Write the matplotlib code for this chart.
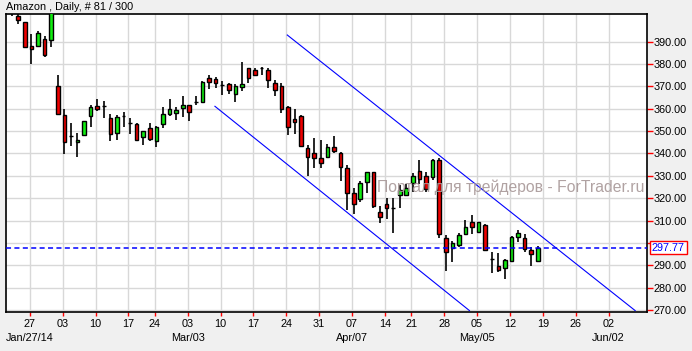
import numpy as np
import pandas as pd
import matplotlib
matplotlib.use("Agg")
import matplotlib.pyplot as plt
import matplotlib.transforms as mtransforms

plt.rcParams['font.family'] = ['Liberation Sans', 'DejaVu Sans']

title = "Amazon , Daily, # 81 / 300"
watermark = "Портал для трейдеров - ForTrader.ru"

# trading days shown (NYSE holidays removed)
holidays = ["2014-02-17", "2014-04-18"]
dates = pd.bdate_range("2014-01-22", "2014-05-16")
dates = dates[~dates.isin(pd.to_datetime(holidays))]
future = pd.bdate_range("2014-05-19", "2014-06-13")

opens = [404.5, 401.4, 398.7, 388.1, 388.2, 391.2, 390.6, 370.1,
         357.2, 348.0, 345.0, 348.4, 356.9, 361.2, 361.1, 355.7, 349.0, 356.6,
         353.5, 353.2, 347.2, 351.3, 345.5, 353.2, 357.7, 358.0, 360.2,
         361.7, 363.2, 363.2, 373.6, 373.2, 370.6, 370.9, 366.5, 369.9, 378.1,
         377.3, 378.4, 377.3, 371.4, 370.2, 360.7, 355.4, 356.8, 342.3, 340.1,
         337.9, 338.6, 342.8, 340.1, 333.4, 322.2, 319.7, 327.4, 331.6, 313.7,
         317.3, 315.8, 321.4, 321.4, 326.7, 332.2, 329.9, 329.4, 337.1,
         302.1, 297.6, 299.1, 303.9, 309.2, 304.8, 308.0, 292.8, 289.6, 288.6,
         291.9, 302.5, 302.1, 296.8, 292.1]
highs = [407.0, 402.5, 399.0, 393.4, 394.9, 392.7, 406.0, 375.1,
         359.8, 353.5, 349.3, 354.5, 361.7, 364.4, 363.3, 357.7, 357.2, 358.7,
         355.7, 353.5, 350.2, 353.5, 352.3, 360.7, 364.4, 360.7, 365.7,
         361.9, 365.7, 372.4, 375.1, 374.2, 372.4, 371.5, 370.9, 381.1, 378.4,
         378.1, 378.6, 378.4, 372.9, 371.4, 361.2, 359.8, 357.2, 343.8, 347.1,
         346.0, 344.1, 347.8, 340.8, 334.9, 324.7, 327.7, 331.9, 331.9, 316.3,
         320.2, 320.0, 325.9, 326.2, 331.1, 337.1, 331.9, 337.5, 338.0,
         303.6, 301.0, 304.3, 310.3, 312.5, 309.5, 308.3, 295.8, 295.4, 292.6,
         303.1, 305.8, 303.9, 298.3, 298.8]
lows = [401.5, 397.9, 387.3, 380.0, 387.5, 383.3, 387.5, 357.5,
        339.6, 343.5, 338.3, 348.1, 352.0, 359.1, 355.7, 345.7, 346.0, 351.7,
        348.7, 345.5, 343.9, 345.7, 342.8, 351.4, 356.9, 355.1, 356.5,
        354.4, 361.7, 363.0, 368.7, 369.2, 366.2, 366.7, 363.2, 368.0, 371.4,
        374.8, 375.1, 369.2, 365.8, 358.0, 348.3, 348.6, 343.1, 330.1, 333.6,
        333.6, 337.9, 340.1, 327.8, 314.7, 312.8, 318.2, 322.2, 315.8, 309.1,
        310.7, 304.6, 315.5, 321.1, 322.9, 326.4, 322.6, 328.2, 302.1,
        287.4, 291.3, 298.3, 303.6, 303.9, 304.3, 296.4, 286.4, 287.1, 283.7,
        291.3, 300.3, 296.1, 289.8, 291.3]
closes = [405.0, 399.6, 387.8, 386.6, 393.8, 384.2, 404.0, 357.7,
          345.0, 348.0, 345.9, 354.4, 360.8, 360.0, 361.1, 348.7, 356.2, 356.6,
          353.5, 346.0, 349.9, 346.5, 352.0, 357.7, 359.8, 359.3, 361.7,
          358.7, 363.2, 371.8, 371.8, 371.4, 370.6, 368.3, 370.1, 370.9, 373.6,
          375.1, 378.4, 372.9, 368.3, 359.8, 351.7, 354.2, 343.4, 338.3, 337.9,
          335.9, 342.8, 341.3, 333.8, 322.2, 317.3, 326.7, 331.6, 316.5, 311.5,
          315.5, 315.8, 323.7, 324.7, 330.1, 328.6, 324.1, 337.1, 304.0,
          296.1, 299.8, 303.6, 307.3, 307.3, 309.2, 296.8, 292.8, 287.8, 292.2,
          302.6, 304.3, 297.3, 294.9, 297.77]
last_price = 297.77

# channel lines: (bar index, price) anchors
upper_chan_x = [41.9, 94.8]
upper_chan_y = [393.0, 269.7]
lower_chan_x = [30.9, 69.6]
lower_chan_y = [361.1, 269.7]

week_starts = pd.date_range("2014-01-27", "2014-06-02", freq="W-MON")
week_labels = [d.strftime("%d") for d in week_starts]
month_marks = ["2014-01-27", "2014-03-03", "2014-04-07", "2014-05-05", "2014-06-02"]
month_labels = ["Jan/27/14", "Mar/03", "Apr/07", "May/05", "Jun/02"]
price_ticks = np.arange(270, 391, 10)

all_days = dates.append(future)
idx = np.arange(len(dates))
o = np.array(opens)
c = np.array(closes)
up = c >= o

W, H = 692, 351
fig = plt.figure(figsize=(W / 100, H / 100), dpi=100, facecolor='#f0f0f0')
ax = fig.add_axes([6 / W, (H - 311.7) / H, 641 / W, 297.7 / H])
ax.set_facecolor('white')

# wicks then bodies
ax.vlines(idx, lows, highs, color='black', lw=1.2, zorder=2)
ax.bar(idx, np.abs(c - o), bottom=np.minimum(o, c), width=0.55,
       color=np.where(up, '#11ee11', '#ee0000'), edgecolor='black', lw=1.0, zorder=3)

ax.plot(upper_chan_x, upper_chan_y, color='#0000ff', lw=0.8, zorder=4)
ax.plot(lower_chan_x, lower_chan_y, color='#0000ff', lw=0.8, zorder=4)
ax.axhline(last_price, color='#0000ff', lw=1.1, dashes=(3.3, 2.2), zorder=4)

ax.set_xlim(-0.87, 96.6)
ax.set_ylim(269.2, 402.4)

tick_pos = all_days.searchsorted(week_starts) - 0.25
ax.set_xticks(tick_pos)
ax.set_xticklabels(week_labels)
# the last-price box sits over the label nearest to it
ax.set_yticks(price_ticks)
ax.set_yticklabels(["" if abs(p - last_price) < 5 else "%.2f" % p for p in price_ticks])
ax.yaxis.tick_right()
ax.tick_params(axis='x', direction='out', length=3, width=1, color='red',
               labelcolor='black', labelsize=7.8, pad=2)
ax.tick_params(axis='y', direction='out', length=4, width=1, color='red',
               labelcolor='black', labelsize=7.8, pad=1)
ax.grid(True, color='#d8d8d8', lw=1.0)
ax.set_axisbelow(True)
for s in ax.spines.values():
    s.set_color('black')
    s.set_linewidth(1.2)

for d, lab in zip(month_marks, month_labels):
    xp = all_days.searchsorted(pd.Timestamp(d)) - 0.25
    ax.annotate(lab, xy=(xp, 0), xycoords=('data', 'axes fraction'),
                xytext=(0, -26.6), textcoords='offset pixels',
                ha='center', va='center', fontsize=7.8, annotation_clip=False)

trans = mtransforms.blended_transform_factory(ax.transAxes, ax.transData)
ax.text((652 - 6) / 641, last_price, "%.2f" % last_price, transform=trans,
        color='#0000ff', fontsize=7.8, ha='left', va='center', clip_on=False,
        bbox=dict(facecolor='white', edgecolor='red', lw=1.0, pad=1.2))

fig.text(6 / W, 1 - 7.2 / H, title, fontsize=7.8, ha='left', va='center')
fig.text(644 / W, 1 - 191.7 / H, watermark, fontsize=11.3, color='#a89898',
         alpha=0.9, ha='right', va='baseline', zorder=10)

fig.savefig("out.png", dpi=100, facecolor=fig.get_facecolor())
